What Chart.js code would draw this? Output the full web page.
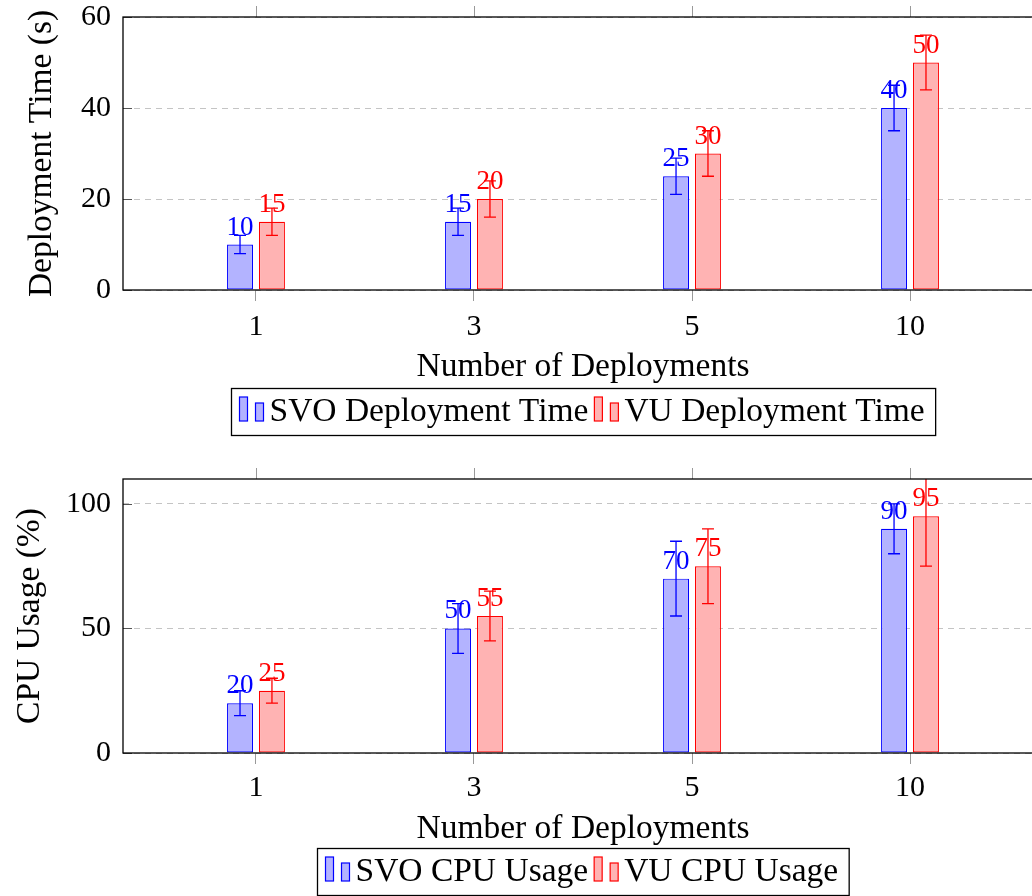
<!DOCTYPE html>
<html lang="de">
<head>
<meta charset="utf-8">
<title>Deployment-Vergleich</title>
<script src="https://cdn.jsdelivr.net/npm/chart.js@4.4.1/dist/chart.umd.min.js"></script>
<style>
  html, body { margin: 0; padding: 0; background: #fff; overflow: hidden; }
  #buehne    { position: relative; width: 1032px; height: 896px; overflow: hidden; }
  canvas     { position: absolute; left: 0; }
  #zeitCanvas { top: 0; }
  #cpuCanvas  { top: 448px; }
</style>
</head>
<body>
<div id="buehne">
  <canvas id="zeitCanvas" width="1060" height="448"></canvas>
  <canvas id="cpuCanvas"  width="1060" height="448"></canvas>
</div>
<script>
'use strict';

// ------------------------------------------------------------------
// Daten
// ------------------------------------------------------------------

// Kategorien der x-Achse (Anzahl Deployments)
const KATEGORIEN      = ['1', '3', '5', '10'];

// Deployment-Zeit in Sekunden, mit Fehlerbalken
const SVO_ZEIT        = [10, 15, 25, 40];
const SVO_ZEIT_FEHLER = [2, 3, 4, 5];
const VU_ZEIT         = [15, 20, 30, 50];
const VU_ZEIT_FEHLER  = [3, 4, 5, 6];

// CPU-Auslastung in Prozent, mit Fehlerbalken
const SVO_CPU         = [20, 50, 70, 90];
const SVO_CPU_FEHLER  = [5, 10, 15, 10];
const VU_CPU          = [25, 55, 75, 95];
const VU_CPU_FEHLER   = [5, 10, 15, 20];

// Beschriftete Werte der y-Achsen
const ZEIT_TICKS      = [0, 20, 40, 60];
const CPU_TICKS       = [0, 50, 100];

// ------------------------------------------------------------------
// Stil
// ------------------------------------------------------------------

const SCHRIFT     = '"Liberation Serif", serif';
const BLAU        = 'rgb(0, 0, 255)';
const BLAU_HELL   = 'rgb(179, 179, 255)';
const ROT         = 'rgb(255, 0, 0)';
const ROT_HELL    = 'rgb(255, 179, 179)';

Chart.defaults.font.family = SCHRIFT;
Chart.defaults.color       = '#000';

// Werteliste in {x, y}-Punkte für die lineare x-Achse umwandeln
function punkte(werte) {
  return werte.map((wert, i) => ({ x: i, y: wert }));
}

// ------------------------------------------------------------------
// Plugin: Fehlerbalken, Wertebeschriftung, Rahmen, Ticks, Legende
// ------------------------------------------------------------------

const dekoPlugin = {
  id: 'deko',

  afterDatasetsDraw(chart) {
    const { ctx, chartArea } = chart;
    const yAchse = chart.scales.y;

    chart.data.datasets.forEach((ds, di) => {
      const meta = chart.getDatasetMeta(di);
      meta.data.forEach((balken, i) => {
        const wert   = ds.data[i].y;
        const fehler = ds.fehler[i];

        // Wert über dem Balken
        ctx.save();
        ctx.fillStyle    = ds.borderColor;
        ctx.font         = '27px ' + SCHRIFT;
        ctx.textAlign    = 'center';
        ctx.textBaseline = 'alphabetic';
        ctx.fillText(String(wert), balken.x, balken.y - 10);
        ctx.restore();

        // Fehlerbalken, auf den Plotbereich beschnitten
        const oben  = yAchse.getPixelForValue(wert + fehler);
        const unten = yAchse.getPixelForValue(wert - fehler);
        ctx.save();
        ctx.beginPath();
        ctx.rect(chartArea.left, chartArea.top,
                 chartArea.right - chartArea.left, chartArea.bottom - chartArea.top);
        ctx.clip();
        ctx.strokeStyle = ds.borderColor;
        ctx.lineWidth   = 1.3;
        ctx.beginPath();
        ctx.moveTo(balken.x, oben);       ctx.lineTo(balken.x, unten);
        ctx.moveTo(balken.x - 6, oben);   ctx.lineTo(balken.x + 6, oben);
        ctx.moveTo(balken.x - 6, unten);  ctx.lineTo(balken.x + 6, unten);
        ctx.stroke();
        ctx.restore();
      });
    });
  },

  afterDraw(chart, args, opts) {
    const { ctx, chartArea } = chart;
    const xAchse = chart.scales.x;
    const yAchse = chart.scales.y;

    ctx.save();

    // Kleine Ticks oben am Rahmen (grau, nach außen)
    ctx.strokeStyle = '#999';
    ctx.lineWidth   = 1;
    KATEGORIEN.forEach((_, i) => {
      const px = Math.round(xAchse.getPixelForValue(i)) + 0.5;
      ctx.beginPath();
      ctx.moveTo(px, chartArea.top - 11);
      ctx.lineTo(px, chartArea.top);
      ctx.stroke();
    });

    // y-Ticks nach innen
    ctx.strokeStyle = '#555';
    opts.yTicks.forEach(wert => {
      const py = Math.round(yAchse.getPixelForValue(wert)) + 0.5;
      ctx.beginPath();
      ctx.moveTo(chartArea.left, py);
      ctx.lineTo(chartArea.left + 9, py);
      ctx.stroke();
    });

    // Rahmen um den Plotbereich
    ctx.strokeStyle = '#000';
    ctx.lineWidth   = 1.3;
    ctx.strokeRect(chartArea.left, chartArea.top,
                   chartArea.right - chartArea.left, chartArea.bottom - chartArea.top);

    // Legende mit Rahmen, zentriert unter dem Plot
    ctx.font = '33.5px ' + SCHRIFT;
    const eintraege = chart.data.datasets.map(ds => ({
      ds,
      breite: ctx.measureText(ds.label).width,
    }));
    const ICON   = 30;
    const LUECKE = 6;
    const RAND_L = 8;
    const RAND_R = 11;
    const HOEHE  = 47;
    let gesamt = RAND_L + RAND_R + LUECKE * (eintraege.length - 1);
    eintraege.forEach(e => { gesamt += ICON + e.breite; });

    const mitte = (chartArea.left + chartArea.right) / 2;
    const links = Math.round(mitte - gesamt / 2) + 0.5;
    const oben  = opts.legendeOben + 0.5;
    const basis = opts.legendeOben + 33;

    ctx.strokeStyle = '#000';
    ctx.lineWidth   = 1.3;
    ctx.strokeRect(links, oben, gesamt, HOEHE);

    let x = links + RAND_L;
    eintraege.forEach(e => {
      ctx.fillStyle   = e.ds.backgroundColor;
      ctx.strokeStyle = e.ds.borderColor;
      ctx.lineWidth   = 1.2;
      ctx.fillRect(x, basis - 24, 8, 24);
      ctx.strokeRect(x, basis - 24, 8, 24);
      ctx.fillRect(x + 16, basis - 18, 8, 18);
      ctx.strokeRect(x + 16, basis - 18, 8, 18);

      ctx.fillStyle    = '#000';
      ctx.textAlign    = 'left';
      ctx.textBaseline = 'alphabetic';
      ctx.fillText(e.ds.label, x + ICON, basis);
      x += ICON + e.breite + LUECKE;
    });

    ctx.restore();
  },
};

// ------------------------------------------------------------------
// Diagramm-Fabrik
// ------------------------------------------------------------------

function diagrammErstellen(canvasId, cfg) {
  const datensatz = (label, werte, fehler, rand, fuellung) => ({
    label,
    data:                punkte(werte),
    fehler,
    borderColor:         rand,
    backgroundColor:     fuellung,
    borderWidth:         1.2,
    borderSkipped:       false,
    categoryPercentage:  0.293,
    barPercentage:       0.8125,
  });

  return new Chart(document.getElementById(canvasId), {
    type: 'bar',
    data: {
      datasets: [
        datensatz(cfg.labelSvo, cfg.svo, cfg.svoFehler, BLAU, BLAU_HELL),
        datensatz(cfg.labelVu,  cfg.vu,  cfg.vuFehler,  ROT,  ROT_HELL),
      ],
    },
    options: {
      responsive:          false,
      maintainAspectRatio: false,
      animation:           false,
      devicePixelRatio:    1,
      layout: {
        padding: { top: cfg.obenAbstand, right: 17, left: 0, bottom: 0 },
      },
      plugins: {
        legend:  { display: false },
        tooltip: { enabled: false },
        deko:    { yTicks: cfg.yTicks, legendeOben: cfg.legendeOben },
      },
      scales: {
        x: {
          type:   'linear',
          min:    -0.61,
          max:    3.61,
          offset: false,
          afterBuildTicks(achse) {
            achse.ticks = KATEGORIEN.map((_, i) => ({ value: i }));
          },
          afterFit(achse) {
            achse.height       = cfg.xHoehe;
            achse.paddingLeft  = 0;
            achse.paddingRight = 0;
          },
          ticks: {
            callback: wert => KATEGORIEN[wert],
            font:        { size: 30 },
            color:       '#000',
            padding:     cfg.xTickAbstand,
            maxRotation: 0,
            autoSkip:    false,
          },
          grid: {
            offset:          false,
            drawOnChartArea: false,
            drawTicks:       true,
            tickLength:      11,
            color:           '#999',
            tickColor:       '#999',
          },
          border: { display: false },
          title: {
            display: true,
            text:    'Number of Deployments',
            font:    { size: 33.5 },
            color:   '#000',
            padding: { top: 0, bottom: cfg.xTitelAbstand },
          },
        },
        y: {
          min: 0,
          max: cfg.yMax,
          afterBuildTicks(achse) {
            achse.ticks = cfg.yTicks.map(v => ({ value: v }));
          },
          afterFit(achse) {
            achse.width         = 123;
            achse.paddingTop    = 0;
            achse.paddingBottom = 0;
          },
          ticks: {
            font:    { size: 30 },
            color:   '#000',
            padding: 12,
          },
          grid: {
            drawTicks: false,
            color:     '#c4c4c4',
            lineWidth: 1,
          },
          border: { display: false, dash: [6, 5] },
          title: {
            display: true,
            text:    cfg.yTitel,
            font:    { size: 33.5 },
            color:   '#000',
            padding: { top: cfg.yTitelAbstand, bottom: 0 },
          },
        },
      },
    },
    plugins: [dekoPlugin],
  });
}

// ------------------------------------------------------------------
// Initialisierung
// ------------------------------------------------------------------

diagrammErstellen('zeitCanvas', {
  labelSvo:      'SVO Deployment Time',
  labelVu:       'VU Deployment Time',
  svo:           SVO_ZEIT,
  svoFehler:     SVO_ZEIT_FEHLER,
  vu:            VU_ZEIT,
  vuFehler:      VU_ZEIT_FEHLER,
  yTitel:        'Deployment Time (s)',
  yMax:          60,
  yTicks:        ZEIT_TICKS,
  obenAbstand:   17,
  xHoehe:        158,
  xTickAbstand:  8,
  xTitelAbstand: 61,
  yTitelAbstand: 22,
  legendeOben:   388,
});

diagrammErstellen('cpuCanvas', {
  labelSvo:      'SVO CPU Usage',
  labelVu:       'VU CPU Usage',
  svo:           SVO_CPU,
  svoFehler:     SVO_CPU_FEHLER,
  vu:            VU_CPU,
  vuFehler:      VU_CPU_FEHLER,
  yTitel:        'CPU Usage (%)',
  yMax:          110,
  yTicks:        CPU_TICKS,
  obenAbstand:   31,
  xHoehe:        143,
  xTickAbstand:  6,
  xTitelAbstand: 47,
  yTitelAbstand: 10,
  legendeOben:   400,
});
</script>
</body>
</html>
